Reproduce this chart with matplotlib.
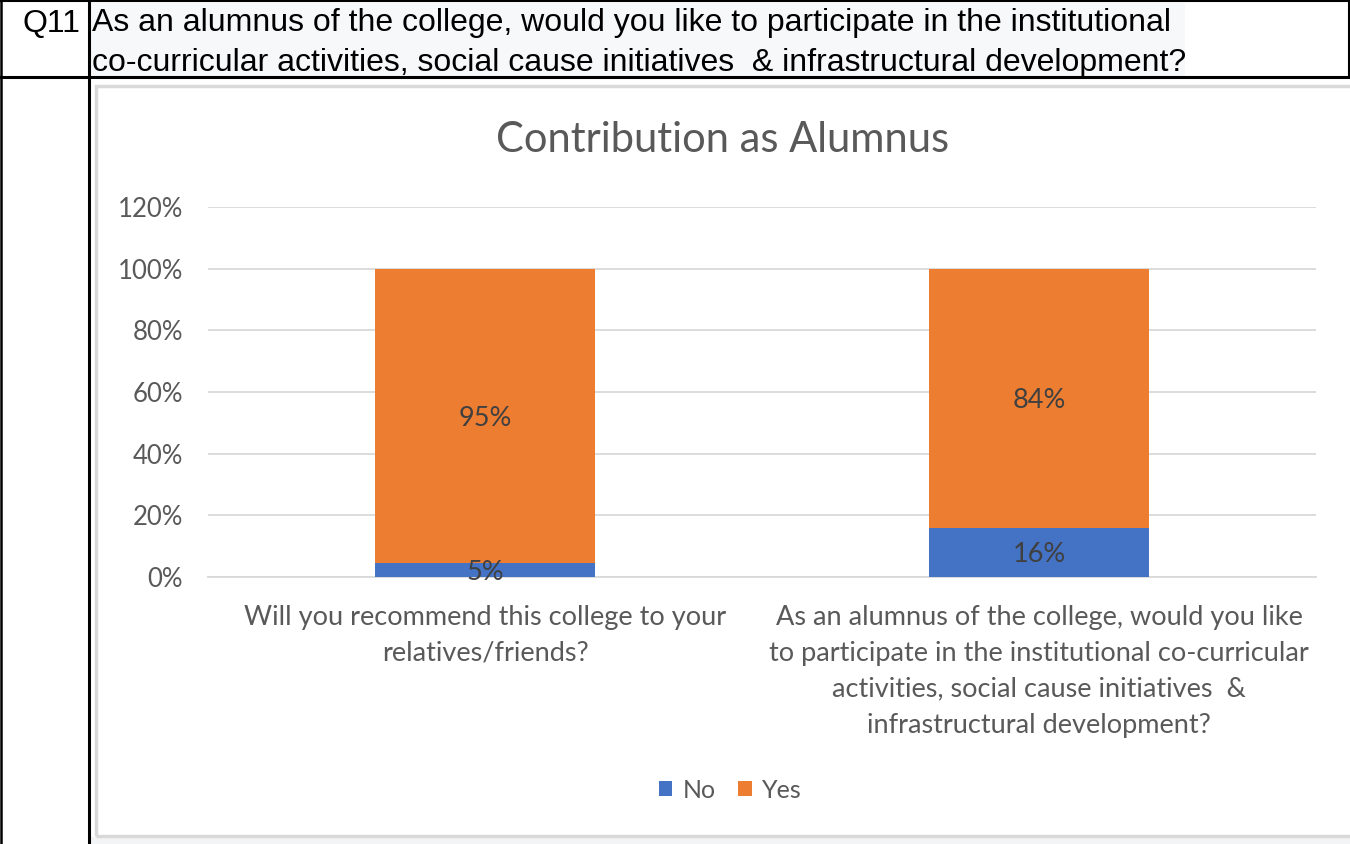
import matplotlib
matplotlib.use("Agg")
import matplotlib.pyplot as plt
from matplotlib.lines import Line2D
from matplotlib.patches import Rectangle, Patch
import numpy as np

# ---- data ----
categories = [
    "Will you recommend this college to your\nrelatives/friends?",
    "As an alumnus of the college, would you like\nto participate in the institutional co-curricular\nactivities, social cause initiatives  &\ninfrastructural development?",
]
no_vals = [0.046, 0.16]
yes_vals = [0.954, 0.84]
series_names = ["No", "Yes"]
y_ticks = [0.0, 0.2, 0.4, 0.6, 0.8, 1.0, 1.2]
y_tick_labels = ["0%", "20%", "40%", "60%", "80%", "100%", "120%"]
title = "Contribution as Alumnus"
question_no = "Q11"
question_text = ("As an alumnus of the college, would you like to participate in the institutional\n"
                 "co-curricular activities, social cause initiatives  & infrastructural development?")

BLUE = "#4472C4"
ORANGE = "#ED7D31"
GRAY_TXT = "#595959"
LABEL_TXT = "#404040"
GRID = "#d9d9d9"
CFONT = ["Lato", "DejaVu Sans"]
HFONT = ["Liberation Sans", "DejaVu Sans"]

W, H = 1350, 844
fig = plt.figure(figsize=(W / 100, H / 100), dpi=100)
fig.patch.set_facecolor("white")

def fx(px):
    return px / W

def fy(py):
    return 1 - py / H

# header highlight background
fig.add_artist(Rectangle((fx(90), fy(76)), fx(1185) - fx(90), fy(3) - fy(76),
                         transform=fig.transFigure, facecolor="#f7f8fa", edgecolor="none", zorder=0))
# bottom light strip
fig.add_artist(Rectangle((fx(91), fy(844)), 1, fy(837) - fy(844),
                         transform=fig.transFigure, facecolor="#f3f4f6", edgecolor="none", zorder=0))
# chart border
fig.add_artist(Rectangle((fx(96), fy(836)), fx(1360) - fx(96), fy(86) - fy(836),
                         transform=fig.transFigure, facecolor="none", edgecolor=GRID, lw=2.5, zorder=1))

# table lines
def hline(y, x0, x1, lw=2.2):
    fig.add_artist(Line2D([fx(x0), fx(x1)], [fy(y), fy(y)], transform=fig.transFigure,
                          color="black", lw=lw, zorder=5))

def vline(x, y0, y1, lw=2.2):
    fig.add_artist(Line2D([fx(x), fx(x)], [fy(y0), fy(y1)], transform=fig.transFigure,
                          color="black", lw=lw, zorder=5))

hline(1, 0, W, lw=1.5)
hline(77, 0, W, lw=2.2)
vline(1, 0, H, lw=1.8)
vline(89, 0, H, lw=2.2)
vline(1349, 0, 77, lw=1.5)

fig.text(fx(80), fy(24), question_no, ha="right", va="center",
         family=HFONT, fontsize=23, color="black")
fig.text(fx(92), fy(43), question_text, ha="left", va="center",
         family=HFONT, fontsize=23, color="black", linespacing=1.4)

# ---- chart ----
ax = fig.add_axes([fx(208), fy(577), fx(1316) - fx(208), fy(207) - fy(577)])
x = np.arange(len(categories))
bw = 0.397
ax.bar(x, no_vals, bw, color=BLUE, label=series_names[0], zorder=3)
ax.bar(x, yes_vals, bw, bottom=no_vals, color=ORANGE, label=series_names[1], zorder=3)

for i in range(len(categories)):
    ax.text(x[i], no_vals[i] / 2, f"{no_vals[i]:.0%}", ha="center", va="center_baseline",
            family=CFONT, fontsize=19.5, color=LABEL_TXT, zorder=4)
    ax.text(x[i], no_vals[i] + yes_vals[i] / 2, f"{yes_vals[i]:.0%}", ha="center",
            va="center_baseline", family=CFONT, fontsize=19.5, color=LABEL_TXT, zorder=4)

ax.set_xlim(-0.5, 1.5)
ax.set_ylim(0, 1.2)
ax.set_yticks(y_ticks)
ax.set_yticklabels(y_tick_labels, family=CFONT, fontsize=18.5, color=GRAY_TXT)
ax.set_xticks(x)
ax.set_xticklabels(categories, family=CFONT, fontsize=19.5, color=GRAY_TXT, linespacing=1.55)
ax.tick_params(axis="both", length=0)
ax.tick_params(axis="y", pad=18)
ax.tick_params(axis="x", pad=20)
ax.grid(axis="y", color=GRID, lw=1.3, zorder=0)
for s in ["top", "right", "left"]:
    ax.spines[s].set_visible(False)
ax.spines["bottom"].set_color(GRID)
ax.spines["bottom"].set_linewidth(1.3)
ax.set_facecolor("none")

fig.text(fx(723), fy(140), title, ha="center", va="center", family=CFONT,
         fontsize=30, color=GRAY_TXT)

handles = [Patch(facecolor=BLUE), Patch(facecolor=ORANGE)]
fig.legend(handles, series_names, loc="center", bbox_to_anchor=(fx(730), fy(790)),
           ncol=2, frameon=False, prop={"family": CFONT, "size": 18},
           handlelength=0.55, handleheight=0.55, handletextpad=0.4, columnspacing=0.9,
           labelcolor=GRAY_TXT)

fig.savefig("out.png", dpi=100, facecolor="white")
